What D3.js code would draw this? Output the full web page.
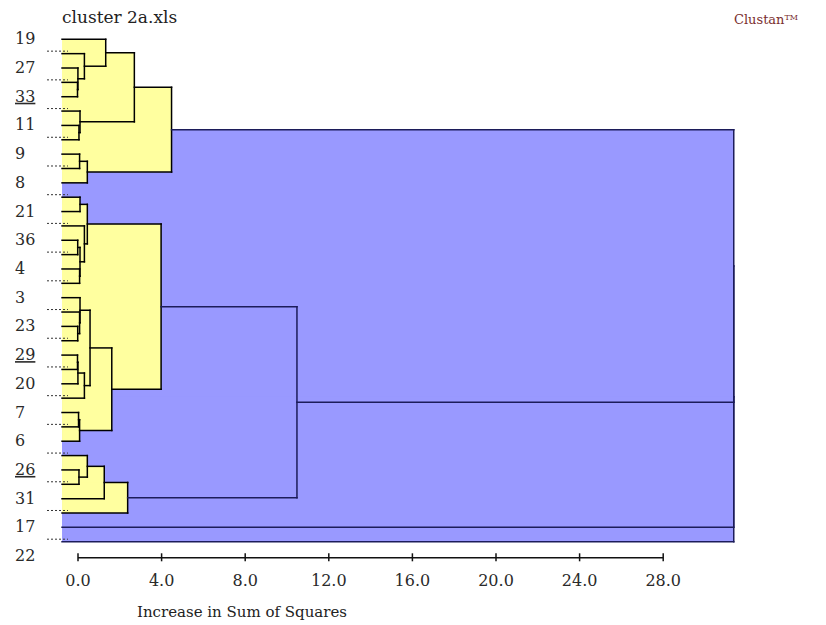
<!DOCTYPE html>
<html>
<head>
<meta charset="utf-8">
<script src="https://cdn.jsdelivr.net/npm/d3@7"></script>
<style>
body { margin: 0; background: #fff; }
svg text { font-family: "DejaVu Serif", "Liberation Serif", serif; }
</style>
</head>
<body>
<svg></svg>
<script>
// labels down the left side, one for every other case in tree order
let caseLabels = ['19','27','33','11','9','8','21','36','4','3','23','29','20','7','6','26','31','17','22']
let underlined = ['33','29','26']
let leafCount = 36

// merges in order: [left, right, height]; cases are 0..35, new clusters get 36, 37, ...
let merges = [
    [3,4,0.0],[2,36,0.02],[1,37,0.33],[0,38,1.35],
    [6,7,0.07],[5,40,0.12],[39,41,2.72],
    [8,9,0.1],[43,10,0.47],[42,44,4.5],
    [11,12,0.12],[14,15,0.01],[16,17,0.1],[47,48,0.12],[13,49,0.33],[46,50,0.47],
    [20,21,0.01],[19,52,0.1],[18,53,0.12],
    [22,23,0.0],[55,24,0.02],[56,25,0.33],[54,57,0.6],
    [26,27,0.05],[59,28,0.1],[58,60,1.64],[51,61,4.0],
    [30,31,0.07],[29,63,0.47],[64,32,1.28],[65,33,2.4],
    [62,66,10.5],
    [45,67,36],[68,34,40],[69,35,45]
]

let tickValues = [0,4,8,12,16,20,24,28]
let cutLevel = 8        // clusters merged below this are shaded yellow
let leafStart = -0.74   // where the case lines begin, in axis units
let visibleMax = 31.4   // merges beyond this are drawn at the right edge

let width = 826
let height = 625

let svg = d3.select('svg')
    .attr('width', width)
    .attr('height', height)

let xScale = d3.scaleLinear()
    .domain([0, 28])
    .range([77.5, 662.7])

let yScale = d3.scaleLinear()
    .domain([0, leafCount - 1])
    .range([39.3, 541.7])

// positions of every node
let nodeX = []
let nodeY = []
for (let i = 0; i < leafCount; i++) {
    nodeX[i] = xScale(leafStart)
    nodeY[i] = yScale(i)
}
merges.forEach((m, k) => {
    let id = leafCount + k
    nodeX[id] = xScale(Math.min(m[2], visibleMax))
    nodeY[id] = (nodeY[m[0]] + nodeY[m[1]]) / 2
})

let x0 = xScale(leafStart)

// shaded boxes: blue for the top clusters first, yellow on top
let boxes = merges.map((m, k) => ({
    id: leafCount + k,
    h: m[2],
    top: Math.min(nodeY[m[0]], nodeY[m[1]]),
    bottom: Math.max(nodeY[m[0]], nodeY[m[1]])
}))
boxes.sort((a, b) => (b.h >= cutLevel) - (a.h >= cutLevel))

svg.append('g')
   .selectAll('rect')
   .data(boxes)
   .enter()
   .append('rect')
   .attr('x', x0)
   .attr('y', (d) => d.top)
   .attr('width', (d) => nodeX[d.id] - x0)
   .attr('height', (d) => d.bottom - d.top)
   .attr('fill', (d) => d.h >= cutLevel ? '#9999ff' : '#ffff9f')

// tree lines
let segs = []
merges.forEach((m, k) => {
    let id = leafCount + k
    let col = m[2] >= cutLevel ? '#1c1c5a' : '#000'
    segs.push({x1: nodeX[m[0]], y1: nodeY[m[0]], x2: nodeX[id], y2: nodeY[m[0]], col: col})
    segs.push({x1: nodeX[m[1]], y1: nodeY[m[1]], x2: nodeX[id], y2: nodeY[m[1]], col: col})
    segs.push({x1: nodeX[id], y1: nodeY[m[0]], x2: nodeX[id], y2: nodeY[m[1]], col: col})
})

svg.append('g')
   .selectAll('line')
   .data(segs)
   .enter()
   .append('line')
   .attr('x1', (d) => d.x1)
   .attr('y1', (d) => d.y1)
   .attr('x2', (d) => d.x2)
   .attr('y2', (d) => d.y2)
   .attr('stroke', (d) => d.col)
   .attr('stroke-width', 1.5)
   .attr('stroke-linecap', 'square')

// case labels on even rows, dotted markers on odd rows
svg.append('g')
   .selectAll('text')
   .data(caseLabels)
   .enter()
   .append('text')
   .text((d) => d)
   .attr('x', 15)
   .attr('y', (d, i) => yScale(i * 2) + 5)
   .attr('font-size', 16)
   .attr('fill', '#2a2a2a')
   .attr('text-decoration', (d) => underlined.includes(d) ? 'underline' : null)

let oddRows = d3.range(1, leafCount, 2)
svg.append('g')
   .selectAll('line')
   .data(oddRows)
   .enter()
   .append('line')
   .attr('x1', 47)
   .attr('x2', 68)
   .attr('y1', (d) => yScale(d) - 2.5)
   .attr('y2', (d) => yScale(d) - 2.5)
   .attr('stroke', '#333')
   .attr('stroke-width', 1)
   .attr('stroke-dasharray', '2,2')

// axis
let xAxis = d3.axisBottom(xScale)
    .tickValues(tickValues)
    .tickFormat(d3.format('.1f'))
    .tickSizeInner(7)
    .tickSizeOuter(0)

let axisG = svg.append('g')
   .attr('transform', 'translate(0,557.3)')
   .call(xAxis)

axisG.select('.domain').attr('stroke', '#111').attr('stroke-width', 1.5)
axisG.selectAll('.tick line')
     .attr('y1', -4)
     .attr('y2', 4)
     .attr('stroke', '#111')
     .attr('stroke-width', 1.5)
axisG.selectAll('.tick text')
     .attr('y', 17)
     .attr('font-family', '"DejaVu Serif", serif')
     .attr('font-size', 16)
     .attr('fill', '#2a2a2a')

svg.append('text')
   .text('Increase in Sum of Squares')
   .attr('x', 137)
   .attr('y', 617)
   .attr('font-size', 15)
   .attr('fill', '#222')

svg.append('text')
   .text('cluster 2a.xls')
   .attr('x', 62)
   .attr('y', 23)
   .attr('font-size', 17)
   .attr('fill', '#222')

let brand = svg.append('text')
   .attr('x', 734)
   .attr('y', 24)
   .attr('font-size', 13)
   .attr('fill', '#7a2e2e')
brand.append('tspan').text('Clustan')
brand.append('tspan').text('TM').attr('font-size', 8).attr('dy', -4)
</script>
</body>
</html>
